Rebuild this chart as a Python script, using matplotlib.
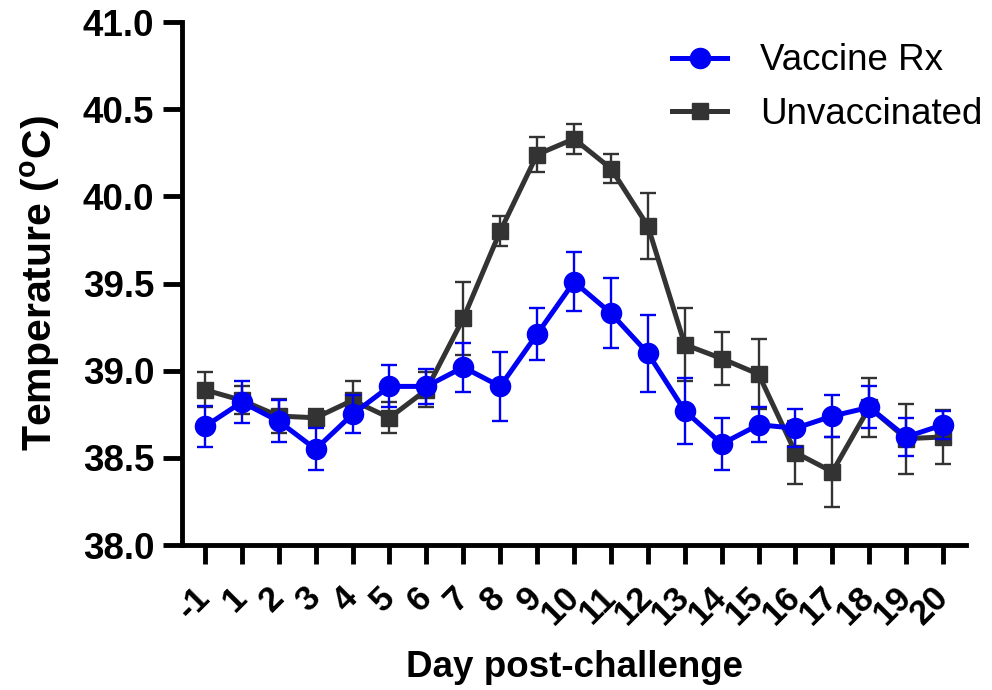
import numpy as np
import matplotlib.pyplot as plt

plt.rcParams['font.family'] = ['Liberation Sans', 'DejaVu Sans']
plt.rcParams['mathtext.fontset'] = 'custom'
plt.rcParams['mathtext.rm'] = 'Liberation Sans:bold'
plt.rcParams['mathtext.bf'] = 'Liberation Sans:bold'

days = ['-1', '1', '2', '3', '4', '5', '6', '7', '8', '9', '10',
        '11', '12', '13', '14', '15', '16', '17', '18', '19', '20']

vacc = [38.68, 38.82, 38.71, 38.55, 38.75, 38.91, 38.91, 39.02, 38.91, 39.21, 39.51,
        39.33, 39.10, 38.77, 38.58, 38.69, 38.67, 38.74, 38.79, 38.62, 38.69]
vacc_err = [0.12, 0.12, 0.12, 0.12, 0.11, 0.12, 0.10, 0.14, 0.20, 0.15, 0.17,
            0.20, 0.22, 0.19, 0.15, 0.10, 0.11, 0.12, 0.12, 0.11, 0.08]

unvacc = [38.89, 38.83, 38.74, 38.73, 38.83, 38.73, 38.89, 39.30, 39.80, 40.24, 40.33,
          40.16, 39.83, 39.15, 39.07, 38.98, 38.53, 38.42, 38.79, 38.61, 38.62]
unvacc_err = [0.10, 0.08, 0.10, 0.05, 0.11, 0.09, 0.10, 0.21, 0.085, 0.10, 0.085,
              0.085, 0.19, 0.21, 0.15, 0.20, 0.18, 0.20, 0.17, 0.20, 0.155]

blue = '#0000f5'
dark = '#333333'
x = np.arange(len(days))

fig = plt.figure(figsize=(9.92, 6.9), dpi=100)
ax = fig.add_axes([0.1835, 0.2101, 0.7903, 0.7579])

ax.errorbar(x, unvacc, yerr=unvacc_err, fmt='none', ecolor=dark, elinewidth=1.7,
            capsize=5.5, capthick=1.7, zorder=2)
ax.plot(x, unvacc, '-s', color=dark, lw=3.6, ms=11.5, label='Unvaccinated', zorder=3)
ax.errorbar(x, vacc, yerr=vacc_err, fmt='none', ecolor=blue, elinewidth=1.7,
            capsize=5.5, capthick=1.7, zorder=4)
ax.plot(x, vacc, '-o', color=blue, lw=3.6, ms=14.5, label='Vaccine Rx', zorder=5)

yt = np.arange(38.0, 41.01, 0.5)
ax.set_xlim(-0.62, 20.62)
ax.set_ylim(38.0, 41.0)
ax.set_yticks(yt)
ax.set_yticklabels([f'{v:.1f}' for v in yt], fontsize=26.5, fontweight='bold')
ax.set_xticks(x)
ax.set_xticklabels(days, fontsize=25, fontweight='bold', rotation=45,
                   ha='right', va='center', rotation_mode='anchor')

for s in ['top', 'right']:
    ax.spines[s].set_visible(False)
for s in ['left', 'bottom']:
    ax.spines[s].set_linewidth(3.5)
ax.tick_params(axis='y', length=14, width=3.5, pad=6)
ax.tick_params(axis='x', length=14, width=3.5, pad=20)

ax.set_ylabel('Temperature ($^{\\mathrm{o}}$C)', fontsize=29.5, fontweight='bold')
ax.yaxis.set_label_coords(-0.153, 0.5)
ax.set_xlabel('Day post-challenge', fontsize=26.5, fontweight='bold')
ax.xaxis.set_label_coords(0.5, -0.20)

h, l = ax.get_legend_handles_labels()
ax.legend(h[::-1], l[::-1], loc='upper left', bbox_to_anchor=(0.644, 0.985),
          bbox_transform=fig.transFigure, frameon=False, fontsize=26.5,
          handlelength=1.5, handletextpad=0.9, labelspacing=0.5)

fig.savefig('out.png', dpi=100)
